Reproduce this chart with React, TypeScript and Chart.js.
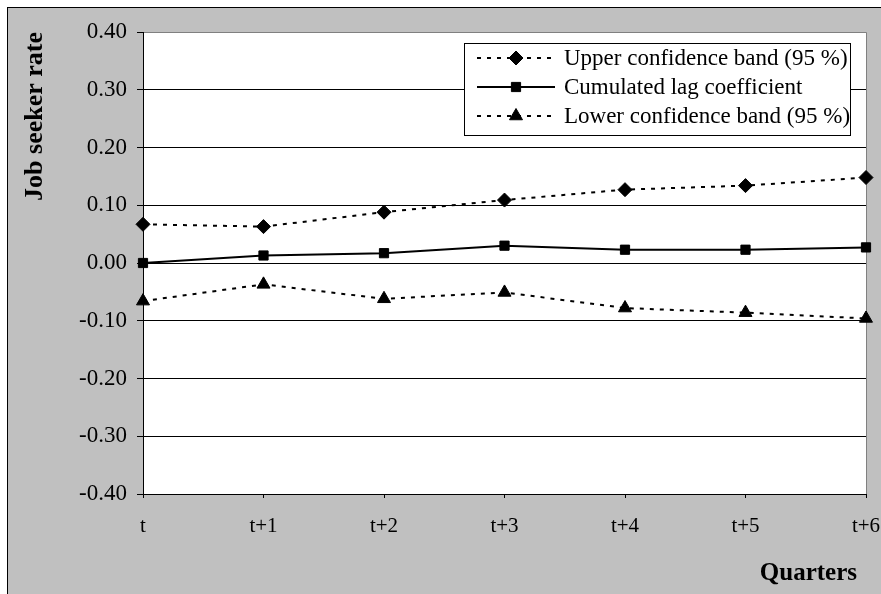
import React, { useEffect, useRef } from "react";
import { Chart, registerables } from "chart.js";
import { drawPoint } from "chart.js/helpers";

Chart.register(...registerables);

const categories = ["t", "t+1", "t+2", "t+3", "t+4", "t+5", "t+6"];
const upperBand = [0.067, 0.063, 0.088, 0.109, 0.127, 0.134, 0.148];
const cumulatedLag = [0.0, 0.013, 0.017, 0.03, 0.023, 0.023, 0.027];
const lowerBand = [-0.066, -0.037, -0.062, -0.051, -0.078, -0.086, -0.096];
const seriesLabels = [
  "Upper confidence band (95 %)",
  "Cumulated lag coefficient",
  "Lower confidence band (95 %)",
];
const yMin = -0.4;
const yMax = 0.4;
const yStep = 0.1;
const yTitle = "Job seeker rate";
const xTitle = "Quarters";

const SERIF = "'Liberation Serif', 'Times New Roman', serif";

const plotBgPlugin = {
  id: "plotBg",
  beforeDraw(chart: any) {
    const { ctx, chartArea } = chart;
    ctx.save();
    ctx.fillStyle = "#ffffff";
    ctx.fillRect(chartArea.left, chartArea.top, chartArea.right - chartArea.left, chartArea.bottom - chartArea.top);
    ctx.strokeStyle = "#808080";
    ctx.lineWidth = 1;
    ctx.beginPath();
    ctx.moveTo(chartArea.left, Math.round(chartArea.top) + 0.5);
    ctx.lineTo(Math.round(chartArea.right) + 0.5, Math.round(chartArea.top) + 0.5);
    ctx.lineTo(Math.round(chartArea.right) + 0.5, chartArea.bottom);
    ctx.stroke();
    ctx.restore();
  },
};

const xTitlePlugin = {
  id: "xTitle",
  afterDraw(chart: any) {
    const { ctx, chartArea, height } = chart;
    ctx.save();
    ctx.font = `bold 25px ${SERIF}`;
    ctx.fillStyle = "#000000";
    ctx.textAlign = "right";
    ctx.textBaseline = "middle";
    ctx.fillText(xTitle, chartArea.right - 9, height - 20);
    ctx.restore();
  },
};

const boxLegendPlugin = {
  id: "boxLegend",
  afterDatasetsDraw(chart: any) {
    const { ctx, chartArea } = chart;
    const w = 387;
    const h = 93;
    const right = Math.round(chartArea.right) - 15;
    const top = Math.round(chartArea.top) + 11;
    const left = right - w;
    ctx.save();
    ctx.fillStyle = "#ffffff";
    ctx.fillRect(left, top, w, h);
    ctx.strokeStyle = "#000000";
    ctx.lineWidth = 1;
    ctx.strokeRect(left + 0.5, top + 0.5, w - 1, h - 1);
    ctx.font = `23px ${SERIF}`;
    ctx.textBaseline = "middle";
    ctx.textAlign = "left";
    chart.data.datasets.forEach((ds: any, i: number) => {
      const y = top + 15 + i * 29;
      ctx.save();
      ctx.setLineDash(ds.borderDash || []);
      ctx.lineWidth = ds.borderWidth;
      ctx.strokeStyle = ds.borderColor;
      ctx.beginPath();
      ctx.moveTo(left + 13, y);
      ctx.lineTo(left + 91, y);
      ctx.stroke();
      ctx.restore();
      ctx.fillStyle = ds.pointBackgroundColor;
      ctx.strokeStyle = ds.pointBorderColor;
      ctx.lineWidth = ds.pointBorderWidth;
      drawPoint(ctx, { pointStyle: ds.pointStyle, radius: ds.pointRadius, rotation: 0, borderWidth: ds.pointBorderWidth } as any, left + 52, y);
      ctx.fillStyle = "#000000";
      ctx.fillText(ds.label, left + 100, y + 1);
    });
    ctx.restore();
  },
};

export default function App() {
  const canvasRef = useRef<HTMLCanvasElement | null>(null);

  useEffect(() => {
    if (!canvasRef.current) return;
    const chart = new Chart(canvasRef.current, {
      type: "line",
      data: {
        labels: categories,
        datasets: [
          {
            label: seriesLabels[0],
            data: upperBand,
            borderColor: "#000000",
            borderWidth: 2,
            borderDash: [4, 6],
            pointStyle: "rectRot",
            pointRadius: 7,
            pointBackgroundColor: "#000000",
            pointBorderColor: "#000000",
            pointBorderWidth: 1,
            tension: 0,
            fill: false,
          },
          {
            label: seriesLabels[1],
            data: cumulatedLag,
            borderColor: "#000000",
            borderWidth: 2,
            pointStyle: "rect",
            pointRadius: 6.5,
            pointBackgroundColor: "#000000",
            pointBorderColor: "#000000",
            pointBorderWidth: 1,
            tension: 0,
            fill: false,
          },
          {
            label: seriesLabels[2],
            data: lowerBand,
            borderColor: "#000000",
            borderWidth: 2,
            borderDash: [4, 6],
            pointStyle: "triangle",
            pointRadius: 7.5,
            pointBackgroundColor: "#000000",
            pointBorderColor: "#000000",
            pointBorderWidth: 1,
            tension: 0,
            fill: false,
          },
        ],
      },
      options: {
        animation: false,
        responsive: false,
        layout: { padding: { top: 24, right: 15, left: 0, bottom: 0 } },
        plugins: {
          legend: { display: false },
          tooltip: { enabled: false },
        },
        scales: {
          x: {
            type: "category",
            offset: false,
            afterFit: (scale: any) => {
              scale.height = 100;
              scale.paddingLeft = 0;
              scale.paddingRight = 0;
            },
            grid: {
              display: true,
              drawOnChartArea: false,
              drawTicks: true,
              tickLength: 4,
              color: "#000000",
            },
            border: { display: true, color: "#000000", width: 1 },
            ticks: {
              color: "#000000",
              font: { family: SERIF, size: 21 },
              padding: 16,
              maxRotation: 0,
              autoSkip: false,
            },
            title: { display: false, text: xTitle },
          },
          y: {
            min: yMin,
            max: yMax,
            afterFit: (scale: any) => {
              scale.width = 135;
              scale.paddingTop = 0;
              scale.paddingBottom = 0;
            },
            grid: {
              color: (c: any) => (c.tick && Math.abs(c.tick.value - yMax) < 1e-6 ? "#808080" : "#000000"),
              tickColor: "#000000",
              drawTicks: true,
              tickLength: 6,
              lineWidth: 1,
            },
            border: { display: true, color: "#000000", width: 1 },
            ticks: {
              stepSize: yStep,
              color: "#000000",
              font: { family: SERIF, size: 23 },
              padding: 10,
              callback: (v: any) => Number(v).toFixed(2),
            },
            title: {
              display: true,
              text: yTitle,
              align: "end",
              color: "#000000",
              font: { family: SERIF, size: 26, weight: "bold" },
              padding: { top: 12, bottom: 0 },
            },
          },
        },
      },
      plugins: [plotBgPlugin, boxLegendPlugin, xTitlePlugin],
    });
    return () => chart.destroy();
  }, []);

  return (
    <div
      style={{
        position: "fixed",
        left: 7,
        top: 7,
        right: 0,
        bottom: 0,
        boxSizing: "border-box",
        borderLeft: "1px solid #000",
        borderTop: "1px solid #000",
        background: "#c0c0c0",
        overflow: "hidden",
      }}
    >
      <canvas ref={canvasRef} width={873} height={586} style={{ display: "block", width: 873, height: 586 }} />
    </div>
  );
}
